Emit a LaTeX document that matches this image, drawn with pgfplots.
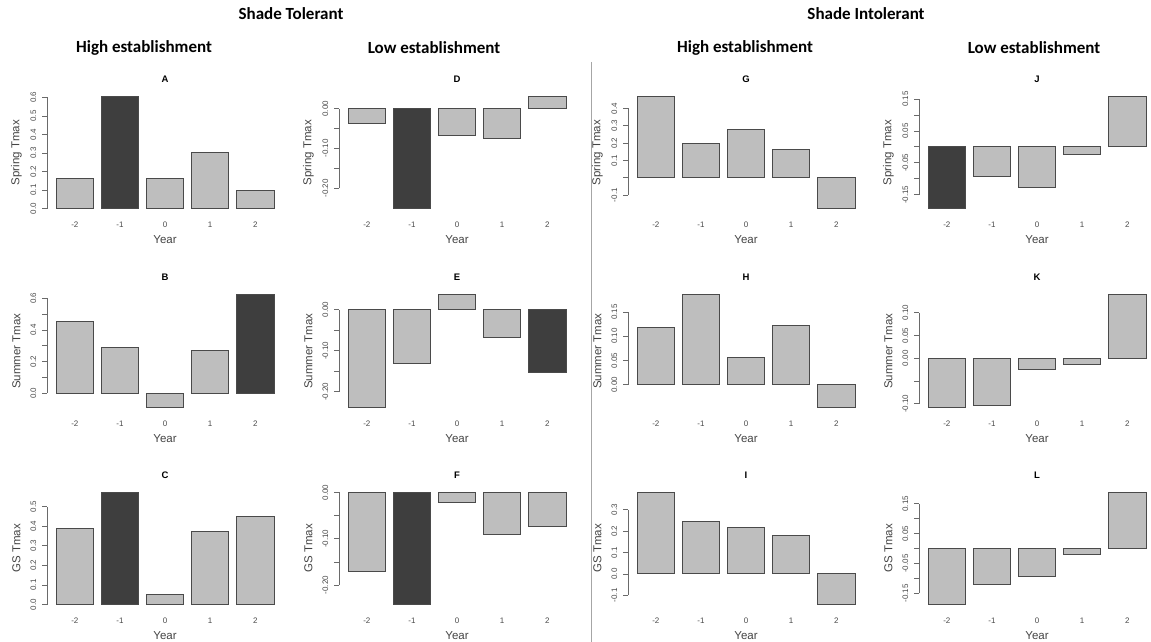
\documentclass[border=0pt]{standalone}
\usepackage{fontspec}
\setmainfont{Liberation Sans}
\newfontfamily\hfont{Carlito}
\usepackage{pgfplots}
\pgfplotsset{compat=1.18}
\definecolor{lg}{HTML}{BEBEBE}
\definecolor{dg}{HTML}{3E3E3E}
\definecolor{bd}{HTML}{4A4A4A}
\definecolor{ax}{HTML}{6A6A6A}
\definecolor{tx}{HTML}{444444}
\pgfplotsset{
  pan/.style={
    scale only axis, width=235.5pt, height=121pt,
    xmin=-0.61, xmax=4.61,
    axis lines*=left, axis line style={draw=none},
    tick align=outside, major tick length=5pt,
    xtick={0,1,2,3,4}, xticklabels={-2,-1,0,1,2},
    x tick style={draw=none},
    y tick style={ax, line width=0.8pt},
    ticklabel style={font=\fontsize{8}{9}\selectfont, text=bd},
    yticklabel style={rotate=90, anchor=south, inner sep=0pt},
    xticklabel style={anchor=center, inner sep=0pt},
    yticklabel shift=6pt,
    xticklabel shift=7pt,
    clip=false,
    xlabel={Year},
    xlabel style={at={(axis description cs:0.5,-0.223)}, anchor=center, font=\fontsize{11.5}{12}\selectfont, text=tx},
    ylabel style={at={(axis description cs:-0.1316,0.5)}, anchor=center, font=\fontsize{11.5}{12}\selectfont, text=tx},
  },
  lb/.style={ybar, bar width=0.8333, bar shift=0pt, fill=lg, draw=bd, line width=1pt},
  db/.style={ybar, bar width=0.8333, bar shift=0pt, fill=dg, draw=bd, line width=1pt},
}
\newcommand{\yax}[2]{\draw[ax, line width=0.8pt] (axis cs:-0.61,#1) -- (axis cs:-0.61,#2);}
\newcommand{\ttl}[1]{\node[font=\bfseries\fontsize{9.5}{10}\selectfont, anchor=center] at (axis description cs:0.5,1.107) {#1};}
\begin{document}
\begin{tikzpicture}
\useasboundingbox (0pt,0pt) rectangle (1151pt,-642pt);
% headers
\node[font=\hfont\bfseries\fontsize{17}{19}\selectfont] at (291pt,-14pt) {Shade Tolerant};
\node[font=\hfont\bfseries\fontsize{17}{19}\selectfont] at (866pt,-14pt) {Shade Intolerant};
\node[font=\hfont\bfseries\fontsize{17}{19}\selectfont] at (144pt,-48pt) {High establishment};
\node[font=\hfont\bfseries\fontsize{17}{19}\selectfont] at (434pt,-48pt) {Low establishment};
\node[font=\hfont\bfseries\fontsize{17}{19}\selectfont] at (745pt,-48pt) {High establishment};
\node[font=\hfont\bfseries\fontsize{17}{19}\selectfont] at (1034pt,-48pt) {Low establishment};
\draw[gray!70, line width=0.8pt] (591pt,-62pt) -- (591pt,-642pt);

% ---------- Row 1 ----------
\begin{axis}[pan, at={(47.3pt,-213pt)}, anchor=south west, ylabel={Spring Tmax},
  ymin=-0.0242, ymax=0.6292, ytick={0,0.1,0.2,0.3,0.4,0.5,0.6},
  yticklabels={0.0,0.1,0.2,0.3,0.4,0.5,0.6}]
\addplot[lb] coordinates {(0,0.164) (2,0.164) (3,0.305) (4,0.096)};
\addplot[db] coordinates {(1,0.605)};
\yax{0}{0.6}\ttl{A}
\end{axis}
\begin{axis}[pan, at={(339.3pt,-213pt)}, anchor=south west, ylabel={Spring Tmax},
  ymin=-0.2623, ymax=0.0423, ytick={-0.2,-0.15,-0.1,-0.05,0},
  yticklabels={-0.20,,-0.10,,0.00}]
\addplot[lb] coordinates {(0,-0.0365) (2,-0.066) (3,-0.0755) (4,0.031)};
\addplot[db] coordinates {(1,-0.251)};
\yax{-0.2}{0}\ttl{D}
\end{axis}
\begin{axis}[pan, at={(628.3pt,-213pt)}, anchor=south west, ylabel={Spring Tmax},
  ymin=-0.2028, ymax=0.4948, ytick={-0.1,0,0.1,0.2,0.3,0.4},
  yticklabels={-0.1,,0.1,0.2,0.3,0.4}]
\addplot[lb] coordinates {(0,0.469) (1,0.197) (2,0.281) (3,0.166) (4,-0.177)};
\yax{-0.1}{0.4}\ttl{G}
\end{axis}
\begin{axis}[pan, at={(919.3pt,-213pt)}, anchor=south west, ylabel={Spring Tmax},
  ymin=-0.2075, ymax=0.1721, ytick={-0.15,-0.1,-0.05,0,0.05,0.1,0.15},
  yticklabels={-0.15,,-0.05,,0.05,,0.15}]
\addplot[lb] coordinates {(1,-0.093) (2,-0.126) (3,-0.0228) (4,0.158)};
\addplot[db] coordinates {(0,-0.1934)};
\yax{-0.15}{0.15}\ttl{J}
\end{axis}

% ---------- Row 2 ----------
\begin{axis}[pan, at={(47.3pt,-411.5pt)}, anchor=south west, ylabel={Summer Tmax},
  ymin=-0.1164, ymax=0.6494, ytick={0,0.1,0.2,0.3,0.4,0.5,0.6},
  yticklabels={0.0,,0.2,,0.4,,0.6}]
\addplot[lb] coordinates {(0,0.453) (1,0.291) (2,-0.088) (3,0.272)};
\addplot[db] coordinates {(4,0.621)};
\yax{0}{0.6}\ttl{B}
\end{axis}
\begin{axis}[pan, at={(339.3pt,-411.5pt)}, anchor=south west, ylabel={Summer Tmax},
  ymin=-0.2479, ymax=0.0465, ytick={-0.2,-0.15,-0.1,-0.05,0},
  yticklabels={-0.20,,-0.10,,0.00}]
\addplot[lb] coordinates {(0,-0.237) (1,-0.130) (2,0.0356) (3,-0.068)};
\addplot[db] coordinates {(4,-0.152)};
\yax{-0.2}{0}\ttl{E}
\end{axis}
\begin{axis}[pan, at={(628.3pt,-411.5pt)}, anchor=south west, ylabel={Summer Tmax},
  ymin=-0.0552, ymax=0.1942, ytick={0,0.05,0.1,0.15},
  yticklabels={0.00,0.05,0.10,0.15}]
\addplot[lb] coordinates {(0,0.117) (1,0.185) (2,0.0568) (3,0.122) (4,-0.046)};
\yax{0}{0.15}\ttl{H}
\end{axis}
\begin{axis}[pan, at={(919.3pt,-411.5pt)}, anchor=south west, ylabel={Summer Tmax},
  ymin=-0.1168, ymax=0.1485, ytick={-0.1,-0.05,0,0.05,0.1},
  yticklabels={-0.10,,0.00,0.05,0.10}]
\addplot[lb] coordinates {(0,-0.107) (1,-0.104) (2,-0.0255) (3,-0.0139) (4,0.1387)};
\yax{-0.1}{0.1}\ttl{K}
\end{axis}

% ---------- Row 3 ----------
\begin{axis}[pan, at={(47.3pt,-609pt)}, anchor=south west, ylabel={GS Tmax},
  ymin=-0.0229, ymax=0.5949, ytick={0,0.1,0.2,0.3,0.4,0.5},
  yticklabels={0.0,0.1,0.2,0.3,0.4,0.5}]
\addplot[lb] coordinates {(0,0.387) (2,0.053) (3,0.373) (4,0.447)};
\addplot[db] coordinates {(1,0.572)};
\yax{0}{0.5}\ttl{C}
\end{axis}
\begin{axis}[pan, at={(339.3pt,-609pt)}, anchor=south west, ylabel={GS Tmax},
  ymin=-0.2517, ymax=0.0097, ytick={-0.2,-0.15,-0.1,-0.05,0},
  yticklabels={-0.20,,-0.10,,0.00}]
\addplot[lb] coordinates {(0,-0.170) (2,-0.021) (3,-0.091) (4,-0.074)};
\addplot[db] coordinates {(1,-0.242)};
\yax{-0.2}{0}\ttl{F}
\end{axis}
\begin{axis}[pan, at={(628.3pt,-609pt)}, anchor=south west, ylabel={GS Tmax},
  ymin=-0.1640, ymax=0.4020, ytick={-0.1,0,0.1,0.2,0.3},
  yticklabels={-0.1,0.0,0.1,0.2,0.3}]
\addplot[lb] coordinates {(0,0.381) (1,0.244) (2,0.219) (3,0.182) (4,-0.143)};
\yax{-0.1}{0.3}\ttl{I}
\end{axis}
\begin{axis}[pan, at={(919.3pt,-609pt)}, anchor=south west, ylabel={GS Tmax},
  ymin=-0.202, ymax=0.203, ytick={-0.15,-0.1,-0.05,0,0.05,0.1,0.15},
  yticklabels={-0.15,,-0.05,,0.05,,0.15}]
\addplot[lb] coordinates {(0,-0.187) (1,-0.119) (2,-0.093) (3,-0.019) (4,0.188)};
\yax{-0.15}{0.15}\ttl{L}
\end{axis}
\end{tikzpicture}
\end{document}
